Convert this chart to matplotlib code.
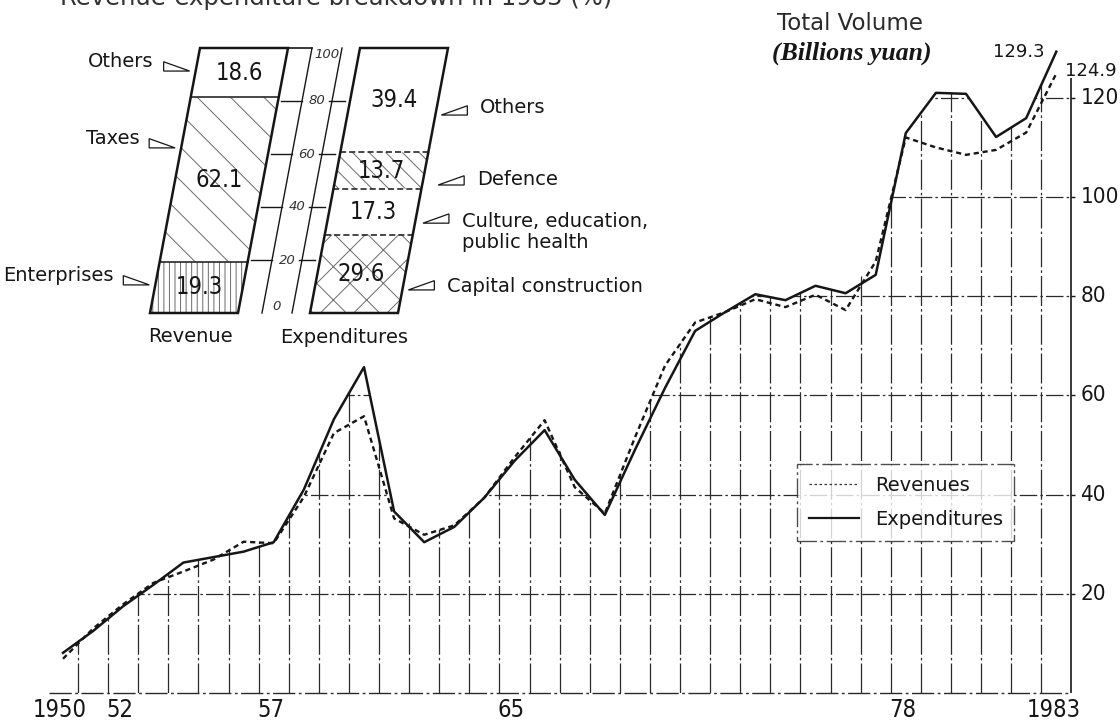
import os
import numpy as np
import matplotlib
matplotlib.use('Agg')
import matplotlib.pyplot as plt
from matplotlib import font_manager
from matplotlib.font_manager import FontProperties
from matplotlib.patches import Polygon
from matplotlib.lines import Line2D

plt.rcParams['hatch.linewidth'] = 0.7

# total volume, billions yuan
years = np.arange(1950, 1984)
revenues = [6.9, 13.0, 17.9, 22.2, 24.5, 26.9, 30.5, 30.2, 39.5, 52.4,
            55.8, 35.2, 31.9, 33.8, 39.4, 47.5, 55.0, 41.5, 36.2, 51.5,
            66.0, 74.7, 76.8, 79.4, 77.8, 80.3, 77.2, 87.0, 112.0, 110.0,
            108.5, 109.5, 113.0, 124.9]
expenditures = [8.1, 12.5, 17.5, 21.8, 26.3, 27.4, 28.5, 30.4, 41.0, 55.2,
                65.7, 36.6, 30.4, 33.5, 39.4, 46.8, 53.0, 43.0, 35.9, 49.0,
                61.5, 73.0, 76.8, 80.4, 79.2, 82.1, 80.6, 84.3, 112.9, 121.0,
                120.8, 112.1, 115.9, 129.3]
tick_years = [1950, 1952, 1957, 1965, 1978, 1983]
tick_labels = ['1950', '52', '57', '65', '78', '1983']
levels = [20, 40, 60, 80, 100, 120]

# 1983 breakdown (%), listed bottom to top
rev_parts = ['Enterprises', 'Taxes', 'Others']
rev_pct = [19.3, 62.1, 18.6]
exp_parts = ['Capital construction', 'Culture, education,\npublic health', 'Defence', 'Others']
exp_pct = [29.6, 17.3, 13.7, 39.4]
scale_ticks = [0, 20, 40, 60, 80, 100]

INK = '#161616'
SANS = 'DejaVu Sans'


def find_narrow():
    # the numbers in the original are set in a condensed face
    prefs = ['LiberationSansNarrow-Regular', 'DejaVuSansCondensed.ttf',
             'RobotoCondensed-Regular', 'OpenSans_Condensed-Regular',
             'OpenSansCondensed-Regular', 'NotoSans-Condensed.ttf',
             'NotoSans-CondensedRegular']
    files = [f.fname for f in font_manager.fontManager.ttflist]
    for p in prefs:
        for fn in files:
            if p in os.path.basename(fn):
                return fn
    return None


narrow_file = find_narrow()


def num(size):
    if narrow_file:
        return dict(fontproperties=FontProperties(fname=narrow_file), fontsize=size)
    return dict(family=SANS, fontsize=size * 0.8)


fig = plt.figure(figsize=(11.2, 7.21), dpi=100)


def fpos(x, y):
    # pixel position -> figure fraction
    return x / 1120, 1 - y / 721


# ---- main chart ----
ax = fig.add_axes([0, 0, 1, 1])
ax.set_xlim(1947.907, 1985.116)
ax.set_ylim(-5.645, 139.72)
ax.axis('off')

top = np.maximum(revenues, expenditures)
env = np.column_stack([np.concatenate([[1950], years, [1983.5, 1983.5]]),
                       np.concatenate([[0], top, [top[-1], 0]])])
clip = Polygon(env, closed=True, transform=ax.transData)

hl = ax.hlines(levels, 1949.5, 1983.5, color='#2a2a2a', lw=0.9,
               linestyles=[(0, (14, 2.5, 2, 2.5))], zorder=1)
hl.set_clip_path(clip)
vl = ax.vlines(years[:-1] + 0.5, 0, 140, color='#2a2a2a', lw=0.9,
               linestyles=[(0, (24, 2.5, 2, 2.5))], zorder=1)
vl.set_clip_path(clip)

ax.plot([1949.55, 1983.5], [0, 0], color='#2a2a2a', lw=1.0,
        linestyle=(0, (16, 2.5, 2, 2.5)), zorder=1)
ax.vlines(1983.5, 0, 124, color=INK, lw=1.2, zorder=2)
ax.hlines(levels, 1983.5, 1983.62, color=INK, lw=1.0)
for lv in levels:
    ax.text(1983.8, lv, str(lv), ha='left', va='center', color=INK, **num(16))
for yr, lab in zip(tick_years, tick_labels):
    ax.text(yr - 0.1, -3.4, lab, ha='center', va='center', color=INK, **num(17))

ax.plot(years, revenues, color=INK, lw=1.7, dashes=(2.2, 1.6), zorder=3)
ax.plot(years, expenditures, color=INK, lw=1.8, zorder=3,
        solid_joinstyle='round')

ax.text(years[-1] - 0.4, expenditures[-1], '129.3', ha='right', va='center',
        fontsize=13, family=SANS, color=INK)
ax.text(years[-1] + 0.3, revenues[-1] + 0.5, '124.9', ha='left', va='center',
        fontsize=13, family=SANS, color=INK)

handles = [Line2D([], [], color='#333333', lw=0.9, linestyle=(0, (2, 2))),
           Line2D([], [], color=INK, lw=1.6)]
leg = ax.legend(handles, ['Revenues', 'Expenditures'], loc='upper left',
                bbox_to_anchor=fpos(797, 464), bbox_transform=fig.transFigure,
                frameon=True, fancybox=False, edgecolor='#222222',
                prop={'family': SANS, 'size': 14}, handlelength=2.6,
                handletextpad=0.8, labelspacing=0.8, borderpad=0.6,
                borderaxespad=0)
leg.get_frame().set_linestyle((0, (14, 2.5, 2, 2.5)))
leg.get_frame().set_linewidth(1.0)
for t in leg.get_texts():
    t.set_color(INK)

fig.text(*fpos(777, 23), 'Total Volume', ha='left', va='center',
         fontsize=16.5, family=SANS, color='#2a2a2a')
fig.text(*fpos(772, 53), '(Billions yuan)', ha='left', va='center',
         fontsize=18.5, family='Liberation Serif', weight='bold',
         style='italic', color=INK)
fig.text(*fpos(60, 5), 'Revenue-expenditure breakdown in 1983 (%)',
         ha='left', va='baseline', fontsize=17.5, family=SANS, color='#333333')

# ---- 1983 breakdown inset: slanted stacked bars, y in percent ----
ax2 = fig.add_axes([0, (721 - 313) / 721, 1, 265 / 721])
ax2.set_xlim(0, 1120)
ax2.set_ylim(0, 100)
ax2.axis('off')

slant = 0.5          # px of lean per percent
bar_w = 88
rev_x, exp_x = 150, 310
band_l, band_r = 262, 292


def seg(x0, a, b):
    return [(x0 + slant * a, a), (x0 + bar_w + slant * a, a),
            (x0 + bar_w + slant * b, b), (x0 + slant * b, b)]


def draw_bar(x0, pcts, hatches, inner_style):
    edges = np.concatenate([[0], np.cumsum(pcts)])
    for a, b, h in zip(edges[:-1], edges[1:], hatches):
        if h:
            ax2.add_patch(Polygon(seg(x0, a, b), closed=True, facecolor='white',
                                  edgecolor='#6a6a6a', lw=0, hatch=h))
    for c in edges[1:-1]:
        ax2.plot([x0 + slant * c, x0 + bar_w + slant * c], [c, c],
                 color=INK, lw=1.1, linestyle=inner_style, clip_on=False)
    ax2.add_patch(Polygon(seg(x0, 0, 100), closed=True, fill=False,
                          edgecolor=INK, lw=1.8, clip_on=False))
    for a, b, v in zip(edges[:-1], edges[1:], pcts):
        m = (a + b) / 2
        ax2.text(x0 + bar_w / 2 + slant * m, m, f'{v:.1f}', ha='center',
                 va='center', color=INK, **num(17))
    return edges


draw_bar(rev_x, rev_pct, ['|||', '\\', ''], '-')
draw_bar(exp_x, exp_pct, ['x', '', '\\\\', ''], (0, (4, 2)))

# percent ruler between the bars
for x0 in (band_l, band_r):
    ax2.plot([x0, x0 + slant * 100], [0, 100], color=INK, lw=1.0, clip_on=False)
ax2.plot([rev_x + bar_w + slant * 100, band_l + slant * 100], [100, 100],
         color=INK, lw=1.2, clip_on=False)
for p in scale_ticks:
    va = 'top' if p == 100 else ('bottom' if p == 0 else 'center')
    ax2.text((band_l + band_r) / 2 + slant * p, p, str(p), ha='center', va=va,
             fontsize=9.5, style='italic', family=SANS, color='#333333')
    if 0 < p < 100:
        ax2.plot([band_l + slant * p - 21, band_l + slant * p], [p, p],
                 color=INK, lw=1.0)
        ax2.plot([band_r + slant * p - 3, band_r + slant * p + 13], [p, p],
                 color=INK, lw=1.0)

# pointer labels
tri_w, tri_h = 26, 3.5
rev_ptr = [10.6, 62.3, 91.3]
for name, p in zip(rev_parts, rev_ptr):
    tip = rev_x + slant * p - 6
    ax2.add_patch(Polygon([(tip - tri_w, p), (tip, p), (tip - tri_w, p + tri_h)],
                          closed=True, fill=False, edgecolor=INK, lw=0.9,
                          clip_on=False))
    ax2.text(tip - tri_w - 10, p + tri_h, name, ha='right', va='center',
             fontsize=14, family=SANS, color=INK)

exp_ptr = [8.7, 33.9, 48.3, 74.7]
exp_gap = [6, 8, 16, 6]
exp_dy = [1.2, -3.4, 2.0, 3.0]
for name, p, g, dy in zip(exp_parts, exp_ptr, exp_gap, exp_dy):
    tip = exp_x + bar_w + slant * p + g
    ax2.add_patch(Polygon([(tip, p), (tip + tri_w, p), (tip + tri_w, p + tri_h)],
                          closed=True, fill=False, edgecolor=INK, lw=0.9,
                          clip_on=False))
    ax2.text(tip + tri_w + 13, p + dy, name, ha='left', va='center',
             fontsize=14, family=SANS, color=INK, linespacing=1.15)

ax2.text(rev_x + bar_w / 2 - 4, -8.8, 'Revenue', ha='center', va='center',
         fontsize=14, family=SANS, color=INK)
ax2.text(exp_x + bar_w / 2 - 10, -9.1, 'Expenditures', ha='center', va='center',
         fontsize=14, family=SANS, color=INK)

fig.savefig('out.png', dpi=100, facecolor='white')
